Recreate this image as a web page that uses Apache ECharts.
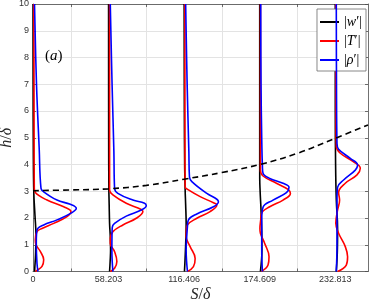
<!DOCTYPE html>
<html><head><meta charset="utf-8">
<script src="https://cdn.jsdelivr.net/npm/echarts@6/dist/echarts.min.js"></script>
<style>html,body{margin:0;padding:0;background:#fff}#c{width:374px;height:303px}</style>
</head><body><div id="c"></div>
<script>
// profile stations along S/delta
const S_POS = [0, 58.203, 116.406, 174.609, 232.813];
const XTICK_LABELS = ['0', '58.203', '116.406', '174.609', '232.813'];
const GRID_S = [29.1015, 87.3045, 145.5075, 203.7105];
const Y_TICKS = [0, 1, 2, 3, 4, 5, 6, 7, 8, 9, 10];
// amplitude (arbitrary units) -> S/delta offset
const AMP_SCALE = 0.77;

// each profile: [h/delta, amplitude]
const W1 = [[0,1.7],[0.14,1.8],[0.5,2.4],[0.83,2.7],[1.33,3],[2.08,2],[2.95,0.8],[4.6,0.3],[7,0.1],[10,0]];
const T1 = [[0,2.3],[0.06,4.7],[0.19,9],[0.44,10.7],[0.75,7.3],[1.0,3],[1.18,2.3],[1.49,4],[1.61,9],[1.8,20.7],[2.05,34],[2.24,38],[2.42,30.7],[2.67,14],[2.95,2.3],[3.11,1.3],[5,1.1],[7,1],[10,0.8]];
const R1 = [[0,5],[0.3,4],[1.05,3.3],[1.45,3.6],[1.61,4.7],[1.74,10.7],[1.93,24],[2.2,39],[2.36,43.3],[2.51,37.3],[2.67,24],[2.98,10.7],[3.11,8],[4.6,6.2],[7,3.5],[10,1.5]];

const W2 = [[0,1],[0.4,1.6],[0.8,2],[1.3,1.7],[1.8,1],[2.5,0.6],[3.05,0.3],[5,0.1],[10,0]];
const T2 = [[0,1.7],[0.12,6],[0.37,8.3],[0.74,6],[1.05,1.7],[1.24,1.7],[1.49,4.3],[1.74,14.3],[1.99,27.7],[2.24,34.3],[2.32,32.7],[2.55,17.7],[2.86,4.3],[3.05,1],[5,1],[10,1]];
const R2 = [[0,4.3],[0.8,3.3],[1.3,3.4],[1.65,3.7],[1.8,6],[2.07,17.7],[2.3,32.7],[2.46,37.7],[2.55,36],[2.67,24.3],[2.92,9.3],[3.11,6],[4.5,5.3],[7,3.5],[10,1.7]];

const W3 = [[0,0.3],[0.8,1.3],[1.8,2],[2.5,1.5],[3.05,1],[4,0.5],[6,0.2],[10,0]];
const T3 = [[0,3.3],[0.18,9.3],[0.49,11],[0.93,6],[1.3,2],[1.5,2.2],[1.74,3.3],[1.99,12.7],[2.24,26],[2.49,32.7],[2.57,29.3],[2.8,16],[3.05,4.3],[3.17,1],[5,0.8],[10,0.7]];
const R3 = [[0,3.3],[0.8,2],[1.68,3.3],[1.93,4.3],[2.15,12.7],[2.42,29.3],[2.61,34.3],[2.7,32.7],[2.92,22.7],[3.36,7.7],[3.54,5.3],[4.5,4.7],[7,3],[10,1.5]];

const W4 = [[0,0.7],[0.8,2.2],[1.5,2],[2.3,1.3],[3.0,0.4],[3.5,0],[5,0],[10,0]];
const T4 = [[0,1.7],[0.24,8.3],[0.55,9.3],[1.05,5],[1.43,0.7],[1.61,0.2],[1.93,1],[2.17,1.7],[2.42,10],[2.67,23.3],[2.92,30.7],[3.07,28.3],[3.3,16.7],[3.57,3.3],[3.79,0.7],[5,0.7],[10,0.7]];
const R4 = [[0,2.7],[0.8,2],[1.93,2],[2.4,3.3],[2.67,13.3],[2.95,26.7],[3.15,29.3],[3.3,23.3],[3.48,10],[3.67,3.3],[3.92,2.7],[5,2],[7,1.3],[10,1]];

const W5 = [[0,1],[0.7,2],[1.6,2.3],[2.67,1],[4,0.3],[6,0],[10,0]];
const T5 = [[0,2.3],[0.24,11],[0.55,12.3],[0.93,10],[1.43,3.3],[1.8,0.5],[2.3,2.3],[2.67,4.3],[2.95,3.3],[3.3,10],[3.61,21.7],[3.86,25],[4.1,18.3],[4.42,5],[4.67,1],[6,0.6],[10,0.5]];
const R5 = [[0,1],[1,1.7],[2.67,1.7],[3.15,2.3],[3.42,8.3],[3.79,20],[3.98,22.3],[4.23,15],[4.57,3.3],[4.79,1.7],[7,1.2],[10,1]];

// dashed interface line
const PYC_S = [0, 29.1, 58.2, 87.3, 116.4, 145.5, 174.6, 203.7, 232.8, 258];
const PYC_H = [3.02, 3.05, 3.09, 3.22, 3.45, 3.7, 4.0, 4.42, 4.98, 5.48];

const VAR_NAMES = ['w', 'T', 'rho'];
const VAR_COLORS = ['#000000', '#ff0000', '#0000ff'];
const PROFILES = [[W1,T1,R1],[W2,T2,R2],[W3,T3,R3],[W4,T4,R4],[W5,T5,R5]];

const series = [];
PROFILES.forEach((prof, i) => {
  prof.forEach((curve, k) => {
    series.push({
      name: VAR_NAMES[k], type: 'line', smooth: 0.4, showSymbol: false, symbol: 'none',
      color: VAR_COLORS[k], lineStyle: {color: VAR_COLORS[k], width: 1.6},
      data: curve.map(p => [S_POS[i] + AMP_SCALE * p[1], p[0]]),
      z: 2 + k, animation: false
    });
  });
});
series.push({
  name: 'interface', type: 'line', smooth: 0.4, showSymbol: false, symbol: 'none',
  lineStyle: {color: '#000', width: 1.6, type: [6, 4]},
  data: PYC_S.map((s, i) => [s, PYC_H[i]]), z: 6, animation: false
});

const axisColor = '#4d4d4d';
const legendFmt = {w: '{b||}{i|w}{b|′|}', T: '{b||}{i|T}{b|′|}', rho: '{b||}{i|ρ}{b|′|}'};
const nameRich = {rich: {
  i: {fontFamily: 'Liberation Serif', fontStyle: 'italic', fontSize: 16, color: '#262626'},
  n: {fontFamily: 'Liberation Serif', fontSize: 16, color: '#262626'}
}};
const chart = echarts.init(document.getElementById('c'), null, {renderer: 'canvas'});
chart.setOption({
  animation: false,
  backgroundColor: '#fff',
  grid: {left: 33, right: 6, top: 4, bottom: 31.5, containLabel: false, outerBoundsMode: 'none'},
  xAxis: [{
    type: 'value', min: 0, max: 258, position: 'bottom',
    name: '{i|S}{n|/}{i|δ}', nameLocation: 'middle', nameGap: 15, nameMoveOverlap: false,
    nameTextStyle: nameRich,
    axisLine: {show: true, onZero: false, lineStyle: {color: axisColor, width: 0.8}},
    axisTick: {show: true, inside: true, length: 3, customValues: GRID_S, lineStyle: {color: axisColor, width: 0.8}},
    axisLabel: {customValues: S_POS, formatter: v => XTICK_LABELS[S_POS.indexOf(v)] ?? '', fontFamily: 'Liberation Sans', fontSize: 9, color: '#333', margin: 4},
    splitLine: {show: true, lineStyle: {color: '#e3e3e3', width: 1}}
  }, {
    type: 'value', min: 0, max: 258, position: 'top',
    axisLine: {show: true, onZero: false, lineStyle: {color: axisColor, width: 0.8}},
    axisTick: {show: true, inside: true, length: 3, customValues: GRID_S, lineStyle: {color: axisColor, width: 0.8}},
    axisLabel: {show: false}, splitLine: {show: false}
  }],
  yAxis: [{
    type: 'value', min: 0, max: 10, interval: 1, position: 'left',
    name: '{i|h}{n|/}{i|δ}', nameLocation: 'middle', nameGap: 18, nameRotate: 90, nameMoveOverlap: false,
    nameTextStyle: nameRich,
    axisLine: {show: true, onZero: false, lineStyle: {color: axisColor, width: 0.8}},
    axisTick: {show: true, inside: true, length: 3, lineStyle: {color: axisColor, width: 0.8}},
    axisLabel: {formatter: v => String(Y_TICKS[Y_TICKS.indexOf(v)]), fontFamily: 'Liberation Sans', fontSize: 9, color: '#333', margin: 4},
    splitLine: {show: true, lineStyle: {color: '#e3e3e3', width: 1}}
  }, {
    type: 'value', min: 0, max: 10, interval: 1, position: 'right',
    axisLine: {show: true, onZero: false, lineStyle: {color: axisColor, width: 0.8}},
    axisTick: {show: true, inside: true, length: 3, lineStyle: {color: axisColor, width: 0.8}},
    axisLabel: {show: false}, splitLine: {show: false}
  }],
  legend: {
    data: VAR_NAMES, orient: 'vertical', right: 8, top: 9,
    backgroundColor: '#fff', borderColor: '#6a6a6a', borderWidth: 0.8,
    padding: [6, 4, 4, 3], itemGap: 5, itemWidth: 19, itemHeight: 2, icon: 'rect',
    formatter: n => legendFmt[n],
    textStyle: {rich: {
      i: {fontFamily: 'Liberation Serif', fontStyle: 'italic', fontSize: 14, color: '#000', lineHeight: 14},
      b: {fontFamily: 'Liberation Serif', fontSize: 14, color: '#000', lineHeight: 14}
    }}
  },
  graphic: [{
    type: 'text', left: 45, top: 49, z: 10,
    style: {text: '{n|(}{i|a}{n|)}', rich: {
      n: {fontFamily: 'Liberation Serif', fontSize: 15, fill: '#000'},
      i: {fontFamily: 'Liberation Serif', fontStyle: 'italic', fontSize: 15, fill: '#000'}
    }}
  }],
  series: series
});
</script></body></html>
